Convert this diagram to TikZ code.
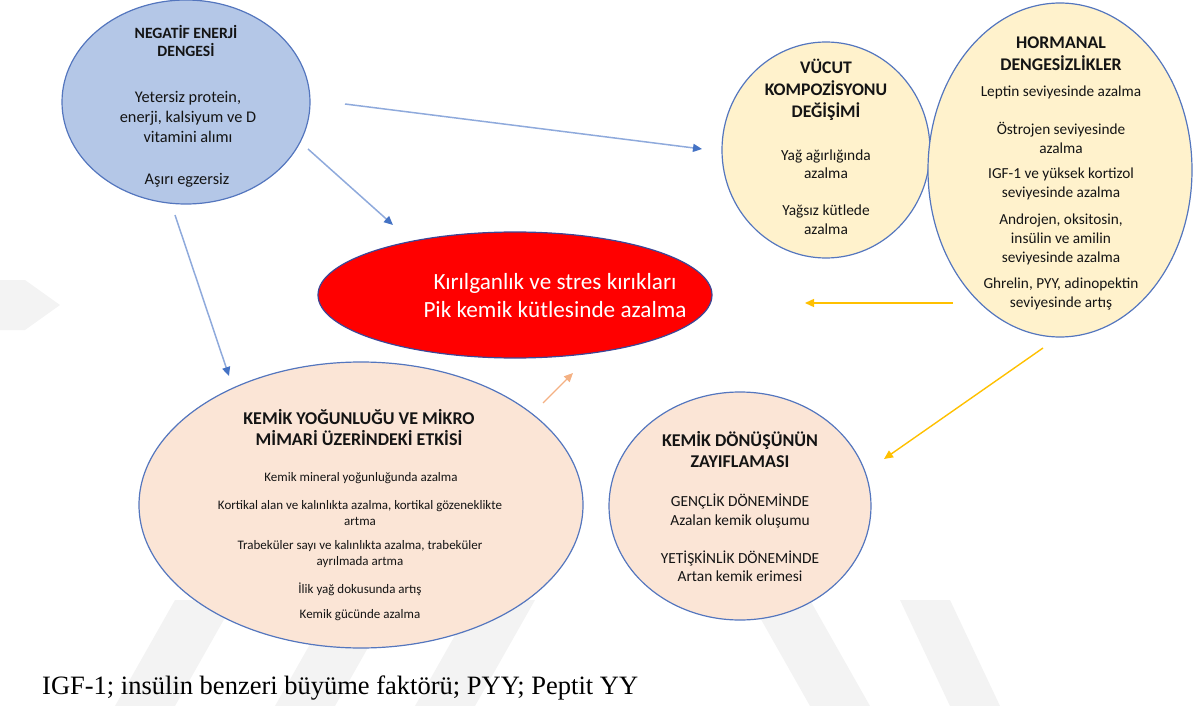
\documentclass[tikz,border=0pt]{standalone}
\usepackage{fontspec}
\setmainfont{Carlito}
\newfontfamily\tnr{Liberation Serif}
\usetikzlibrary{shapes.geometric,arrows.meta}
\definecolor{ellblue}{RGB}{180,199,231}
\definecolor{ellyel}{RGB}{255,242,204}
\definecolor{ellpeach}{RGB}{251,229,214}
\definecolor{edgeblue}{RGB}{84,118,190}
\definecolor{edgered}{RGB}{60,70,150}
\definecolor{arrblue}{RGB}{143,170,220}
\definecolor{headblue}{RGB}{68,114,196}
\definecolor{arrorange}{RGB}{244,177,131}
\definecolor{arrgold}{RGB}{255,192,0}
\definecolor{txtdark}{RGB}{20,20,20}
\definecolor{wmark}{RGB}{243,243,243}
\tikzset{
  ell/.style={ellipse,draw=edgeblue,line width=1.2pt,inner sep=0pt},
  ttl/.style 2 args={align=center,text=txtdark,font=\bfseries\fontsize{#1}{#2}\selectfont},
  bod/.style 2 args={align=center,text=txtdark,font=\fontsize{#1}{#2}\selectfont},
  barr/.style={draw=arrblue,line width=1.5pt,-{Triangle[length=9pt,width=8pt,color=headblue]}},
  oarr/.style={draw=arrorange,line width=1.4pt,-{Triangle[length=9pt,width=8pt]}},
  garr/.style={draw=arrgold,line width=1.4pt,-{Triangle[length=9pt,width=8pt]}},
}
\begin{document}
\begin{tikzpicture}[x=1pt,y=-1pt]
\useasboundingbox (0,0) rectangle (1203,706);
% faint watermark stripes
\fill[wmark] (175,600) -- (235,600) -- (175,706) -- (115,706) -- cycle;
\fill[wmark] (335,600) -- (395,600) -- (335,706) -- (275,706) -- cycle;
\fill[wmark] (475,600) -- (535,600) -- (475,706) -- (415,706) -- cycle;
\fill[wmark] (750,600) -- (810,600) -- (870,706) -- (810,706) -- cycle;
\fill[wmark] (900,600) -- (950,600) -- (1000,706) -- (950,706) -- cycle;
\fill[wmark] (0,280) -- (25,280) -- (60,305) -- (25,330) -- (0,330) -- cycle;

% ellipses
\node[ell,fill=ellblue,minimum width=248pt,minimum height=204pt] (neg) at (186,102) {};
\node[ell,fill=ellyel,minimum width=208pt,minimum height=216pt] (vuc) at (826,150) {};
\node[ell,fill=ellyel,minimum width=264pt,minimum height=334pt] (hor) at (1060,170) {};
\node[ellipse,draw=edgered,line width=1.2pt,inner sep=0pt,fill=red,minimum width=394pt,minimum height=126pt] (kir) at (515,295) {};
\node[ell,fill=ellpeach,minimum width=444pt,minimum height=286pt] (ky) at (361,505) {};
\node[ell,fill=ellpeach,minimum width=262pt,minimum height=228pt] (kd) at (740,506) {};

% NEGATIF
\node[ttl={15.7}{18.5}] (negT) at (186,41) {NEGATİF ENERJİ\\DENGESİ};
\node[bod={16.3}{20}] (negB1) at (188,117) {Yetersiz protein,\\enerji, kalsiyum ve D\\vitamini alımı};
\node[bod={16.3}{20}] (negB2) at (187,180) {Aşırı egzersiz};

% VUCUT
\node[ttl={17.7}{22}] (vucT) at (826,90) {VÜCUT\\KOMPOZİSYONU\\DEĞİŞİMİ};
\node[bod={15.4}{18.5}] (vucB1) at (826,164) {Yağ ağırlığında\\azalma};
\node[bod={15.4}{18.5}] (vucB2) at (826,219.5) {Yağsız kütlede\\azalma};

% HORMANAL
\node[ttl={17.8}{22}] (horT) at (1061,54) {HORMANAL\\DENGESİZLİKLER};
\node[bod={15.3}{19}] (horB1) at (1061,92) {Leptin seviyesinde azalma};
\node[bod={15.3}{19}] (horB2) at (1061,138) {Östrojen seviyesinde\\azalma};
\node[bod={15.3}{19}] (horB3) at (1061,184) {IGF-1 ve yüksek kortizol\\seviyesinde azalma};
\node[bod={15.3}{19}] (horB4) at (1061,239) {Androjen, oksitosin,\\insülin ve amilin\\seviyesinde azalma};
\node[bod={15.3}{19}] (horB5) at (1061,294) {Ghrelin, PYY, adinopektin\\seviyesinde artış};

% RED
\node[align=center,text=white,font=\fontsize{23.2}{28}\selectfont] (kirT) at (555,296) {Kırılganlık ve stres kırıkları\\Pik kemik kütlesinde azalma};

% KEMIK YOGUNLUGU
\node[ttl={18}{21}] (kyT) at (359,427.5) {KEMİK YOĞUNLUĞU VE MİKRO\\MİMARİ ÜZERİNDEKİ ETKİSİ};
\node[bod={13}{16}] (kyB1) at (361,478) {Kemik mineral yoğunluğunda azalma};
\node[bod={13}{16}] (kyB2) at (360,513) {Kortikal alan ve kalınlıkta azalma, kortikal gözeneklikte\\artma};
\node[bod={13}{16}] (kyB3) at (360,554) {Trabeküler sayı ve kalınlıkta azalma, trabeküler\\ayrılmada artma};
\node[bod={13}{16}] (kyB4) at (360,589) {İlik yağ dokusunda artış};
\node[bod={13}{16}] (kyB5) at (360,615) {Kemik gücünde azalma};

% KEMIK DONUSUNUN
\node[ttl={18}{21}] (kdT) at (740,449.5) {KEMİK DÖNÜŞÜNÜN\\ZAYIFLAMASI};
\node[bod={15.4}{18.5}] (kdB1) at (740,511) {GENÇLİK DÖNEMİNDE\\Azalan kemik oluşumu};
\node[bod={15.4}{18.5}] (kdB2) at (740,566.5) {YETİŞKİNLİK DÖNEMİNDE\\Artan kemik erimesi};

% footer
\node[anchor=west,font=\tnr\fontsize{26.5}{28}\selectfont,inner sep=0pt] (foot) at (42,688) {IGF-1; insülin benzeri büyüme faktörü; PYY; Peptit YY};

% arrow end points
\coordinate (a1s) at (345,104);  \coordinate (a1e) at (702,149);
\coordinate (a2s) at (308,149);  \coordinate (a2e) at (393,225);
\coordinate (a3s) at (175,215);  \coordinate (a3e) at (229,376);
\coordinate (a4s) at (543,403);  \coordinate (a4e) at (573,373);
\coordinate (a5s) at (953,303);  \coordinate (a5e) at (805,303);
\coordinate (a6s) at (1043,348); \coordinate (a6e) at (884,459);

\draw[barr] (a1s) -- (a1e);
\draw[barr] (a2s) -- (a2e);
\draw[barr] (a3s) -- (a3e);
\draw[oarr] (a4s) -- (a4e);
\draw[garr] (a5s) -- (a5e);
\draw[garr] (a6s) -- (a6e);
\end{tikzpicture}
\end{document}
